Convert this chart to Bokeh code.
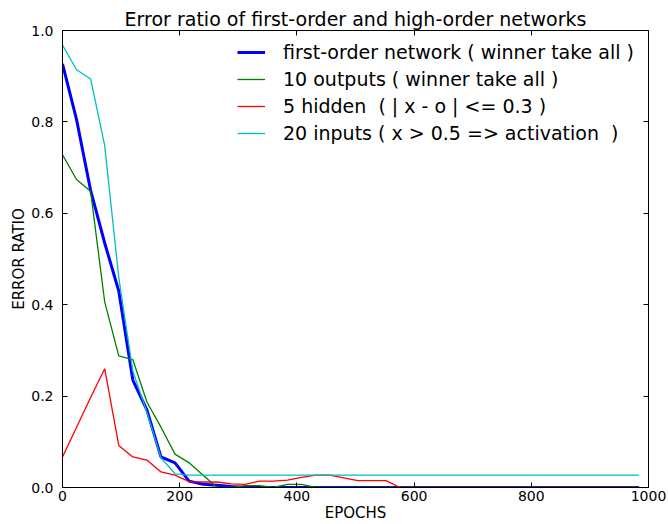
from bokeh.plotting import figure
from bokeh.models import (LinearAxis, Range1d, Legend, LegendItem, FixedTicker,
                          PrintfTickFormatter)
from bokeh.embed import file_html
from bokeh.resources import INLINE

epochs = [0, 24, 48, 72, 96, 120, 144, 168, 192, 216, 240, 264, 288, 312,
          336, 360, 384, 408, 432, 456, 480, 504, 528, 552, 576, 600, 624,
          648, 672, 696, 720, 744, 768, 792, 816, 840, 864, 888, 912, 936,
          960, 984]

first_order = [0.927, 0.805, 0.65, 0.535, 0.43, 0.235, 0.17, 0.067, 0.054,
               0.014, 0.007, 0.005, 0.002, 0.0, 0.0, 0.0, 0.0, 0.0, 0.0, 0.0,
               0.0, 0.0, 0.0, 0.0, 0.0, 0.0, 0.0, 0.0, 0.0, 0.0, 0.0, 0.0,
               0.0, 0.0, 0.0, 0.0, 0.0, 0.0, 0.0, 0.0, 0.0, 0.0]

outputs10 = [0.728, 0.674, 0.648, 0.406, 0.288, 0.28, 0.187, 0.132, 0.073,
             0.054, 0.027, 0.0, 0.0, 0.004, 0.004, 0.0, 0.007, 0.007, 0.0,
             0.0, 0.0, 0.0, 0.0, 0.0, 0.0, 0.0, 0.0, 0.0, 0.0, 0.0, 0.0, 0.0,
             0.0, 0.0, 0.0, 0.0, 0.0, 0.0, 0.0, 0.0, 0.0, 0.0]

hidden5 = [0.067, 0.132, 0.197, 0.26, 0.092, 0.067, 0.06, 0.034, 0.027,
           0.013, 0.012, 0.012, 0.008, 0.007, 0.014, 0.014, 0.016, 0.022,
           0.027, 0.027, 0.021, 0.015, 0.015, 0.015, 0.0, 0.0, 0.0, 0.0, 0.0,
           0.0, 0.0, 0.0, 0.0, 0.0, 0.0, 0.0, 0.0, 0.0, 0.0, 0.0, 0.0, 0.0]

inputs20 = [0.968, 0.914, 0.894, 0.748, 0.46, 0.255, 0.165, 0.065, 0.03,
            0.027, 0.027, 0.027, 0.027, 0.027, 0.027, 0.027, 0.027, 0.027,
            0.027, 0.027, 0.027, 0.027, 0.027, 0.027, 0.027, 0.027, 0.027,
            0.027, 0.027, 0.027, 0.027, 0.027, 0.027, 0.027, 0.027, 0.027,
            0.027, 0.027, 0.027, 0.027, 0.027, 0.027]

labels = ["first-order network ( winner take all )",
          "10 outputs ( winner take all )",
          "5 hidden  ( | x - o | <= 0.3 )",
          "20 inputs ( x > 0.5 => activation  )"]

x_ticks = [0, 200, 400, 600, 800, 1000]
y_ticks = [0.0, 0.2, 0.4, 0.6, 0.8, 1.0]

FONT = "DejaVu Sans"

p = figure(width=668, height=524, output_backend="svg", toolbar_location=None,
           x_range=Range1d(0, 1000), y_range=Range1d(0, 1.0),
           min_border_left=62, min_border_right=20, min_border_top=30,
           min_border_bottom=37)

p.title.text = "Error ratio of first-order and high-order networks"
p.title.align = "center"
p.title.text_font = FONT
p.title.text_font_size = "19px"
p.title.text_font_style = "normal"
p.title.text_color = "black"
p.title.standoff = 2
p.title.offset = 0

p.xgrid.visible = False
p.ygrid.visible = False
p.outline_line_color = "black"
p.outline_line_width = 1
p.background_fill_color = "white"
p.border_fill_color = "white"

def style_axis(ax, ticks, show_labels=True):
    ax.ticker = FixedTicker(ticks=ticks)
    ax.major_tick_in = 5
    ax.major_tick_out = 0
    ax.minor_tick_line_color = None
    ax.axis_line_color = "black"
    ax.major_tick_line_color = "black"
    ax.major_label_text_font = FONT
    ax.major_label_text_color = "black"
    ax.major_label_text_font_size = "14px"
    if not show_labels:
        ax.major_label_text_color = None
        ax.major_label_text_font_size = "1px"
        ax.major_label_standoff = 0

style_axis(p.xaxis[0], x_ticks)
p.xaxis[0].major_label_standoff = 3
p.xaxis[0].axis_label = "EPOCHS"
p.xaxis[0].axis_label_standoff = 0
p.xaxis[0].axis_label_text_font = FONT
p.xaxis[0].axis_label_text_font_size = "15px"
p.xaxis[0].axis_label_text_font_style = "normal"
p.xaxis[0].axis_label_text_color = "black"

style_axis(p.yaxis[0], y_ticks)
p.yaxis[0].formatter = PrintfTickFormatter(format="%.1f")
p.yaxis[0].major_label_standoff = 9
p.yaxis[0].axis_label = "ERROR RATIO"
p.yaxis[0].axis_label_standoff = 0
p.yaxis[0].axis_label_text_font = FONT
p.yaxis[0].axis_label_text_font_size = "15px"
p.yaxis[0].axis_label_text_font_style = "normal"
p.yaxis[0].axis_label_text_color = "black"

top_ax = LinearAxis()
style_axis(top_ax, x_ticks, show_labels=False)
p.add_layout(top_ax, "above")
right_ax = LinearAxis()
style_axis(right_ax, y_ticks, show_labels=False)
p.add_layout(right_ax, "right")

r1 = p.line(epochs, first_order, line_color="#0000ff", line_width=3)
r2 = p.line(epochs, outputs10, line_color="#008000", line_width=1.3)
r3 = p.line(epochs, hidden5, line_color="#ff0000", line_width=1.3)
r4 = p.line(epochs, inputs20, line_color="#00bfbf", line_width=1.3)

legend = Legend(items=[LegendItem(label=labels[0], renderers=[r1]),
                       LegendItem(label=labels[1], renderers=[r2]),
                       LegendItem(label=labels[2], renderers=[r3]),
                       LegendItem(label=labels[3], renderers=[r4])],
                location="top_right", border_line_color=None,
                background_fill_alpha=0, label_text_font=FONT,
                label_text_font_size="19px", label_text_color="black",
                glyph_width=28, glyph_height=22, label_height=22,
                label_width=354, label_standoff=18, spacing=5, padding=0,
                margin=11)
p.add_layout(legend)

open("out.html", "w").write(file_html(p, INLINE))
